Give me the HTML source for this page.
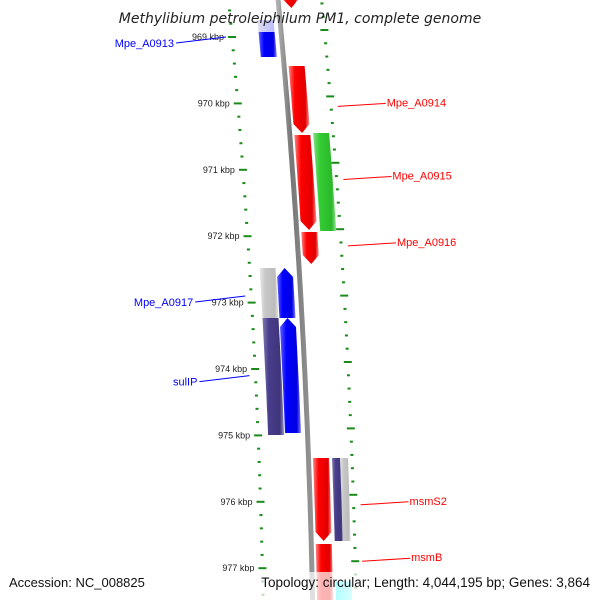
<!DOCTYPE html>
<html><head><meta charset="utf-8"><style>
body{margin:0;background:#fff}
svg{display:block;font-family:"Liberation Sans",sans-serif}
</style></head><body>
<svg id="c" width="600" height="600" viewBox="0 0 600 600">
<defs>
<linearGradient id="gr" x1="0" x2="1"><stop offset="0" stop-color="#ff8080"/><stop offset="0.3" stop-color="#ff0000"/><stop offset="0.8" stop-color="#e00000"/><stop offset="1" stop-color="#ff9090"/></linearGradient>
<linearGradient id="gb" x1="0" x2="1"><stop offset="0" stop-color="#6060ff"/><stop offset="0.3" stop-color="#0000ff"/><stop offset="0.8" stop-color="#0000e0"/><stop offset="1" stop-color="#8080ff"/></linearGradient>
<linearGradient id="gg" x1="0" x2="1"><stop offset="0" stop-color="#80e080"/><stop offset="0.3" stop-color="#33cc33"/><stop offset="0.8" stop-color="#2bb82b"/><stop offset="1" stop-color="#90e890"/></linearGradient>
<linearGradient id="gp" x1="0" x2="1"><stop offset="0" stop-color="#7f78b0"/><stop offset="0.3" stop-color="#483d8b"/><stop offset="0.8" stop-color="#3f357a"/><stop offset="1" stop-color="#9a94c4"/></linearGradient>
<linearGradient id="gy" x1="0" x2="1"><stop offset="0" stop-color="#e8e8e8"/><stop offset="0.3" stop-color="#c8c8c8"/><stop offset="0.8" stop-color="#bcbcbc"/><stop offset="1" stop-color="#e8e8e8"/></linearGradient>
<linearGradient id="gk" x1="0" x2="1"><stop offset="0" stop-color="#bbb"/><stop offset="0.4" stop-color="#777"/><stop offset="1" stop-color="#999"/></linearGradient>
<linearGradient id="gl" x1="0" x2="1"><stop offset="0" stop-color="#dde"/><stop offset="1" stop-color="#bbf"/></linearGradient>
<linearGradient id="gc" x1="0" x2="1"><stop offset="0" stop-color="#00ffff"/><stop offset="1" stop-color="#80ffff"/></linearGradient>
</defs>
<g id="layer"></g>
<text x="300" y="23" text-anchor="middle" font-size="14" font-style="italic" fill="#222" font-family="DejaVu Sans, sans-serif">Methylibium petroleiphilum PM1, complete genome</text>
<rect x="0" y="572" width="600" height="28" fill="#fff" opacity="0.7"/>
<text x="9" y="587" font-size="13" fill="#111">Accession: NC_008825</text>
<text x="590" y="587" text-anchor="end" font-size="13.5" fill="#111">Topology: circular; Length: 4,044,195 bp; Genes: 3,864</text>
</svg>
<script>
const tickLabels = [969, 970, 971, 972, 973, 974, 975, 976, 977];
const featStart = [968.29, 968.744, 968.925, 969.437, 970.476, 970.446, 971.937, 972.479, 973.232, 972.479, 973.232, 975.34, 975.34, 976.636, 977.2, 977.2];
const featEnd   = [968.563, 968.925, 969.301, 970.446, 971.907, 971.922, 972.419, 973.232, 974.994, 973.232, 974.964, 976.59, 976.59, 977.48, 977.48, 977.48];
const featTrack = ['red','blue','blue','red','red','green','red','gray','gray','blue','blue','red','green','red','green','green'];
const featColor = ['gr','gl','gb','gr','gr','gg','gr','gy','gp','gb','gb','gr','gp','gr','gb','gc'];
const featDir   = [1,0,0,1,1,0,1,0,0,-1,-1,1,0,0,0,0];
const labelNames = ['Mpe_A0913','Mpe_A0914','Mpe_A0915','Mpe_A0916','Mpe_A0917','sulIP','msmS2','msmB'];
const labelKbp   = [969.0, 970.0, 971.1, 972.1, 972.9, 974.1, 976.0, 976.85];
const labelSide  = ['L','R','R','R','L','L','R','R'];
const labelColor = ['#0000ff','#ff0000','#ff0000','#ff0000','#0000ff','#0000ff','#ff0000','#ff0000'];

const NS='http://www.w3.org/2000/svg';
const layer=document.getElementById('layer');
const Y=k=>37+(k-969)*66.4;
const f=y=>0.095*y-0.0000625*y*y;
const BASE=228.6;
const X=(off,y)=>BASE+off+f(y);
const trackOff={gray:10,blue:27,red:54,green:73};
const W=16;
function mk(tag,attrs){const e=document.createElementNS(NS,tag);for(const k in attrs)e.setAttribute(k,attrs[k]);layer.appendChild(e);return e;}
function band(off,w,y1,y2,dir){
  const pts=[];const a=dir===-1?y1+9:y1,b=dir===1?y2-9:y2;
  if(dir===-1)pts.push([X(off+w/2,y1),y1]);
  for(let y=a;y<=b;y+=10)pts.push([X(off+w,y),y]);
  pts.push([X(off+w,b),b]);
  if(dir===1)pts.push([X(off+w/2,y2),y2]);
  for(let y=b;y>=a;y-=10)pts.push([X(off,y),y]);
  pts.push([X(off,a),a]);
  return pts.map(p=>p[0].toFixed(1)+','+p[1].toFixed(1)).join(' ');
}
const bb=mk('polygon',{points:band(47,5,-10,610,0),fill:'url(#gk)'});


for(let k=968.4;k<=977.5;k+=0.2){
  const kk=Math.round(k*5)/5, major=Math.abs(kk-Math.round(kk))<0.01;
  const y=Y(kk), len=major?8:3;
  const t=mk('line',{x1:X(0,y)-len/2,x2:X(0,y)+len/2,y1:y,y2:y,stroke:'#1a8a1a','stroke-width':2});
  
  
  const yr=y-7;
  const t2=mk('line',{x1:X(93,yr)-len/2,x2:X(93,yr)+len/2,y1:yr,y2:yr,stroke:'#1a8a1a','stroke-width':2});
  
  
}
tickLabels.forEach(k=>{
  const y=Y(k);
  const t=mk('text',{x:X(0,y)-8,y:y+3,'font-size':9,'text-anchor':'end',fill:'#222'});
  t.textContent=k+' kbp';
  
  
});
featStart.forEach((s,i)=>{
  const off=trackOff[featTrack[i]];
  const w=(i===12)?9:W;
  const p=mk('polygon',{points:band(off,w,Y(s),Y(featEnd[i]),featDir[i]),fill:'url(#'+featColor[i]+')'});
  
  
  if(i===12){const q=mk('polygon',{points:band(off+8,8,Y(s),Y(featEnd[i]),0),fill:'url(#gy)'});
    
    }
});
labelNames.forEach((n,i)=>{
  const y=Y(labelKbp[i]);
  let x1,x2,tx,anchor;
  if(labelSide[i]==='L'){x2=X(-4,y)-2;x1=x2-50;tx=x1-2;anchor='end';}
  else{x1=X(100,y);x2=x1+48;tx=x2+1;anchor='start';}
  const l=mk('line',{x1:x1,y1:labelSide[i]==='L'?y+6:y+3,x2:x2,y2:y,stroke:labelColor[i],'stroke-width':1});
  
  
  const t=mk('text',{x:tx,y:labelSide[i]==='L'?y+10:y+3,'font-size':11,'text-anchor':anchor,fill:labelColor[i]});
  t.textContent=n;
  
  
});
</script>
</body></html>
